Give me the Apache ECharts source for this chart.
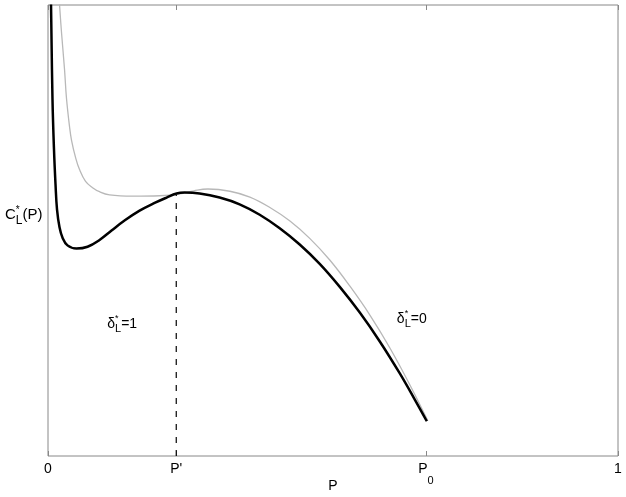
<!DOCTYPE html>
<html>
<head>
<meta charset="utf-8">
<script src="https://cdn.jsdelivr.net/npm/echarts@6/dist/echarts.min.js"></script>
<style>html,body{margin:0;padding:0;background:#fff}#main{width:626px;height:497px}</style>
</head>
<body>
<div id="main"></div>
<script>
// x positions of the named ticks
const pPrime = 0.225;
const pZero = 0.663;
const tickValues = [0, pPrime, pZero, 1];
const tickLabels = ['0', "P'", 'P0', '1'];

// C*_L(P) curve (black) and the lighter comparison curve
const blackCurve = [
    [0.0053, 1.001], [0.0079, 0.790], [0.0105, 0.680], [0.0132, 0.602], [0.0158, 0.547],
    [0.0202, 0.507], [0.0255, 0.484], [0.0342, 0.467], [0.0500, 0.460], [0.0694, 0.464],
    [0.0904, 0.479], [0.1115, 0.500], [0.1343, 0.522], [0.1607, 0.544], [0.1870, 0.561],
    [0.2081, 0.573], [0.2256, 0.582], [0.2397, 0.584], [0.2660, 0.582], [0.3011, 0.573],
    [0.3362, 0.558], [0.3714, 0.535], [0.4065, 0.505], [0.4416, 0.469], [0.4767, 0.426],
    [0.5119, 0.375], [0.5470, 0.318], [0.5821, 0.254], [0.6172, 0.183], [0.6435, 0.125],
    [0.6646, 0.077]
];
const grayCurve = [
    [0.0202, 1.001], [0.0237, 0.939], [0.0290, 0.857], [0.0325, 0.792], [0.0378, 0.730],
    [0.0413, 0.700], [0.0483, 0.662], [0.0553, 0.635], [0.0659, 0.609], [0.0782, 0.595],
    [0.0904, 0.586], [0.1080, 0.579], [0.1484, 0.576], [0.1958, 0.577], [0.2309, 0.581],
    [0.2560, 0.588], [0.2805, 0.592], [0.3191, 0.587], [0.3542, 0.574], [0.3893, 0.551],
    [0.4245, 0.521], [0.4596, 0.482], [0.4947, 0.434], [0.5294, 0.377], [0.5650, 0.312],
    [0.6001, 0.239], [0.6352, 0.157], [0.6664, 0.078]
];
const dashLine = [[pPrime, 0], [pPrime, 0.582]];

// annotation anchors (data coords)
const deltaOne = [0.104, 0.293];
const deltaZero = [0.612, 0.304];

const font = 'Liberation Sans, Arial, sans-serif';
const myChart = echarts.init(document.getElementById('main'));

const deltaRich = {
    d: {fontSize: 14, fontFamily: font, color: '#000', verticalAlign: 'middle'},
    sup: {fontSize: 9, fontFamily: font, color: '#000', width: 0, padding: [0, 0, 10, 0], verticalAlign: 'middle'},
    sub: {fontSize: 11, fontFamily: font, color: '#000', padding: [11, 0, 0, 0], verticalAlign: 'middle'}
};

function tickLabel(v) {
    let i = tickValues.findIndex(t => Math.abs(t - v) < 1e-6);
    if (i < 0) return '';
    if (tickLabels[i] === 'P0') return '{n|P}{s|0}';
    return '{n|' + tickLabels[i] + '}';
}

const option = {
    animation: false,
    grid: {left: 48, right: 8, top: 5, bottom: 41, outerBoundsMode: 'none', show: true, borderColor: '#888', borderWidth: 1},
    xAxis: [
        {
            type: 'value', min: 0, max: 1,
            name: 'P', nameLocation: 'middle', nameGap: 23, nameMoveOverlap: false,
            nameTextStyle: {fontSize: 14, fontFamily: font, color: '#000'},
            axisLine: {show: false},
            splitLine: {show: false},
            axisTick: {inside: true, length: 5, customValues: tickValues, lineStyle: {color: '#888'}},
            axisLabel: {
                customValues: tickValues, margin: 6, formatter: tickLabel,
                rich: {
                    n: {fontSize: 14, fontFamily: font, color: '#000', verticalAlign: 'top'},
                    s: {fontSize: 11, fontFamily: font, color: '#000', padding: [13, 0, 0, 0], verticalAlign: 'top'}
                }
            }
        },
        {
            type: 'value', min: 0, max: 1, position: 'top',
            axisLine: {show: false},
            splitLine: {show: false},
            axisTick: {inside: true, length: 5, customValues: tickValues, lineStyle: {color: '#888'}},
            axisLabel: {show: false}
        }
    ],
    yAxis: {
        type: 'value', min: 0, max: 1,
        axisLine: {show: false}, axisTick: {show: false},
        axisLabel: {show: false}, splitLine: {show: false}
    },
    series: [
        {
            type: 'line', data: grayCurve, smooth: 0.4, symbol: 'none', z: 2,
            lineStyle: {color: '#b8b8b8', width: 1.3}
        },
        {
            type: 'line', data: blackCurve, smooth: 0.4, symbol: 'none', z: 3,
            lineStyle: {color: '#000', width: 2.5}
        },
        {
            type: 'line', data: dashLine, symbol: 'none', z: 1,
            lineStyle: {color: '#000', width: 1.2, type: [6, 7]}
        }
    ]
};

myChart.setOption(option);

const p1 = myChart.convertToPixel({gridIndex: 0}, deltaOne);
const p0 = myChart.convertToPixel({gridIndex: 0}, deltaZero);

myChart.setOption({
    graphic: [
        {
            type: 'text', left: 5, top: 205,
            style: {
                text: '{c|C}{sup|*}{sub|L}{c|(P)}',
                rich: {
                    c: {fontSize: 15, fontFamily: font, color: '#000', verticalAlign: 'middle'},
                    sup: {fontSize: 10, fontFamily: font, color: '#000', width: 0, padding: [0, 0, 9, 0], verticalAlign: 'middle'},
                    sub: {fontSize: 12, fontFamily: font, color: '#000', padding: [12, 0, 0, 0], verticalAlign: 'middle'}
                }
            }
        },
        {
            type: 'text', x: p1[0], y: p1[1],
            style: {text: '{d|δ}{sup|*}{sub|L}{d|=1}', rich: deltaRich, verticalAlign: 'middle'}
        },
        {
            type: 'text', x: p0[0], y: p0[1],
            style: {text: '{d|δ}{sup|*}{sub|L}{d|=0}', rich: deltaRich, verticalAlign: 'middle'}
        }
    ]
});
</script>
</body>
</html>
